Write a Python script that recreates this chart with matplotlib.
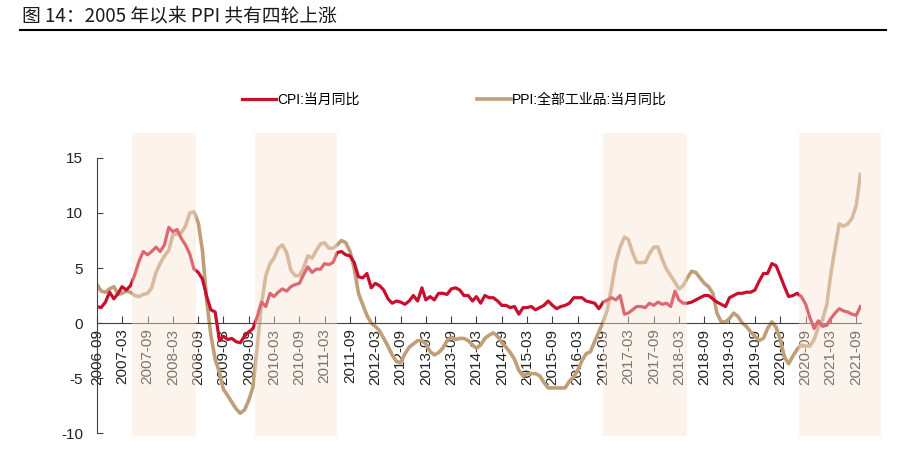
import numpy as np
import pandas as pd
import matplotlib
matplotlib.use('Agg')
import matplotlib.pyplot as plt
from matplotlib.lines import Line2D

plt.rcParams['font.family'] = ['Liberation Sans', 'Noto Sans CJK SC', 'DejaVu Sans']
plt.rcParams['axes.unicode_minus'] = False

# 月度数据 2006-09 ~ 2021-10
months = pd.date_range('2006-09-01', '2021-10-01', freq='MS')

cpi = [1.5, 1.4, 1.9, 2.8,
       2.2, 2.7, 3.3, 3.0, 3.4, 4.4, 5.6, 6.5, 6.2, 6.5, 6.9, 6.5,
       7.1, 8.7, 8.3, 8.5, 7.7, 7.1, 6.3, 4.9, 4.6, 4.0, 2.4, 1.2,
       1.0, -1.6, -1.2, -1.5, -1.4, -1.7, -1.8, -1.2, -0.8, -0.5, 0.6, 1.9,
       1.5, 2.7, 2.4, 2.8, 3.1, 2.9, 3.3, 3.5, 3.6, 4.4, 5.1, 4.6,
       4.9, 4.9, 5.4, 5.3, 5.5, 6.4, 6.5, 6.2, 6.1, 5.5, 4.2, 4.1,
       4.5, 3.2, 3.6, 3.4, 3.0, 2.2, 1.8, 2.0, 1.9, 1.7, 2.0, 2.5,
       2.0, 3.2, 2.1, 2.4, 2.1, 2.7, 2.7, 2.6, 3.1, 3.2, 3.0, 2.5,
       2.5, 2.0, 2.4, 1.8, 2.5, 2.3, 2.3, 2.0, 1.6, 1.6, 1.4, 1.5,
       0.8, 1.4, 1.4, 1.5, 1.2, 1.4, 1.6, 2.0, 1.6, 1.3, 1.5, 1.6,
       1.8, 2.3, 2.3, 2.3, 2.0, 1.9, 1.8, 1.3, 1.9, 2.1, 2.3, 2.1,
       2.5, 0.8, 0.9, 1.2, 1.5, 1.5, 1.4, 1.8, 1.6, 1.9, 1.7, 1.8,
       1.5, 2.9, 2.1, 1.8, 1.8, 1.9, 2.1, 2.3, 2.5, 2.5, 2.2, 1.9,
       1.7, 1.5, 2.3, 2.5, 2.7, 2.7, 2.8, 2.8, 3.0, 3.8, 4.5, 4.5,
       5.4, 5.2, 4.3, 3.3, 2.4, 2.5, 2.7, 2.4, 1.7, 0.5, -0.5, 0.2,
       -0.3, -0.2, 0.4, 0.9, 1.3, 1.1, 1.0, 0.8, 0.7, 1.5]

ppi = [3.5, 2.9, 2.8, 3.1,
       3.3, 2.6, 2.7, 2.9, 2.8, 2.5, 2.4, 2.6, 2.7, 3.2, 4.6, 5.4,
       6.1, 6.6, 8.0, 8.1, 8.2, 8.8, 10.0, 10.1, 9.1, 6.6, 2.0, -1.1,
       -3.3, -4.5, -6.0, -6.6, -7.2, -7.8, -8.2, -7.9, -7.0, -5.8, -2.1, 1.7,
       4.3, 5.4, 5.9, 6.8, 7.1, 6.4, 4.8, 4.3, 4.3, 5.0, 6.1, 5.9,
       6.6, 7.2, 7.3, 6.8, 6.8, 7.1, 7.5, 7.3, 6.5, 5.0, 2.7, 1.7,
       0.7, 0.0, -0.3, -0.7, -1.4, -2.1, -2.9, -3.5, -3.6, -2.8, -2.2, -1.9,
       -1.6, -1.6, -1.9, -2.6, -2.9, -2.7, -2.3, -1.6, -1.3, -1.5, -1.4, -1.4,
       -1.6, -2.0, -2.3, -2.0, -1.4, -1.1, -0.9, -1.2, -1.8, -2.2, -2.7, -3.3,
       -4.3, -4.8, -4.6, -4.6, -4.6, -4.8, -5.4, -5.9, -5.9, -5.9, -5.9, -5.9,
       -5.3, -4.9, -4.3, -3.4, -2.8, -2.6, -1.7, -0.8, 0.1, 1.2, 3.3, 5.5,
       6.9, 7.8, 7.6, 6.4, 5.5, 5.5, 5.5, 6.3, 6.9, 6.9, 5.8, 4.9,
       4.3, 3.7, 3.1, 3.4, 4.1, 4.7, 4.6, 4.1, 3.6, 3.3, 2.7, 0.9,
       0.1, 0.1, 0.4, 0.9, 0.6, 0.0, -0.3, -0.8, -1.2, -1.6, -1.4, -0.5,
       0.1, -0.4, -1.5, -3.1, -3.7, -3.0, -2.4, -2.0, -2.1, -2.1, -1.5, -0.4,
       0.3, 1.7, 4.4, 6.8, 9.0, 8.8, 9.0, 9.5, 10.7, 13.5]

# PPI 四轮上涨区间
shade_start = ['2007-05-15', '2009-10-15', '2016-09-01', '2020-07-15']
shade_end = ['2008-08-15', '2011-06-01', '2018-05-01', '2022-03-01']

fig = plt.figure(figsize=(9.02, 4.59), dpi=100)
ax = fig.add_axes([0.1075, 0.0566, 0.847, 0.5992])

ax.plot(months, cpi, color='#C8102E', lw=2.3, label='CPI:当月同比', zorder=3)
ax.plot(months, ppi, color='#C09E78', lw=2.6, label='PPI:全部工业品:当月同比', zorder=2)

for s, e in zip(shade_start, shade_end):
    ax.axvspan(pd.Timestamp(s), pd.Timestamp(e), ymin=-0.011, ymax=1.09,
               color='#FAE4D4', alpha=0.42, lw=0, zorder=5, clip_on=False)

ax.set_ylim(-10, 15)
ax.set_yticks([-10, -5, 0, 5, 10, 15])
ax.set_xlim(pd.Timestamp('2006-09-01'), pd.Timestamp('2021-10-05'))
ticks = pd.date_range('2006-09-01', '2021-09-01', freq='6MS')
ax.set_xticks(ticks)
ax.set_xticklabels([t.strftime('%Y-%m') for t in ticks])

ax.spines['top'].set_visible(False)
ax.spines['right'].set_visible(False)
ax.spines['bottom'].set_position(('data', 0))
ax.spines['bottom'].set_color('#404040')
ax.spines['left'].set_color('#404040')
ax.tick_params(axis='x', direction='in', length=5, pad=4, labelsize=11,
               color='#404040', labelrotation=90, labelcolor='#222222')
ax.tick_params(axis='y', direction='in', length=4, pad=10, labelsize=11,
               color='#404040', labelcolor='#222222')

fig.legend(loc='center', bbox_to_anchor=(0.504, 0.782), ncol=2, frameon=False,
           handlelength=2.4, handletextpad=0.1, columnspacing=8.5,
           prop={'family': ['Liberation Sans', 'Noto Sans CJK SC'], 'size': 10})

fig.text(0.024, 0.988, '图 14：2005 年以来 PPI 共有四轮上涨', ha='left', va='top',
         fontsize=13.5, family=['Noto Sans CJK SC', 'DejaVu Sans'], color='#1a1a1a')
fig.add_artist(Line2D([0.022, 0.982], [0.934, 0.934], color='black', lw=1.5,
                      transform=fig.transFigure))

fig.savefig('out.png', dpi=100)
